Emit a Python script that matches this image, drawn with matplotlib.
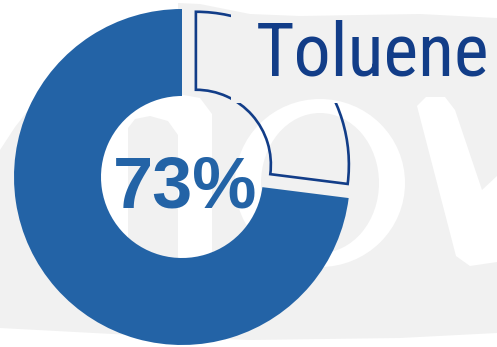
import matplotlib
matplotlib.use("Agg")
import matplotlib.pyplot as plt
from matplotlib.patches import Polygon, Ellipse
from matplotlib.path import Path

# ---- data ----
labels = ["Toluene", "Other"]
shares = [73, 27]

# ---- layout / style ----
W, H = 497, 347
BLUE = "#2363a6"
NAVY = "#123d88"
BG = "#f1f1f1"
WHITE = "#ffffff"

RING_CENTER = (182, H - 177)
R_OUT, R_IN = 168, 81
SLICE_R_OUT, SLICE_R_IN = 153, 75
SLICE_SHIFT = 18.5
TITLE_WIDTH = 234  # pixels available for the label text

fig = plt.figure(figsize=(W / 100, H / 100), dpi=100, facecolor=BG)
ax = fig.add_axes([0, 0, 1, 1])


def flip(pts):
    """Convert top-down pixel points to the axes' bottom-up coordinates."""
    return [(x, H - y) for x, y in pts]


# ---- faint background lettering ----
bg_shapes = [
    # top band
    [(178, 0), (497, 0), (497, 18), (420, 14), (300, 16), (250, 14), (200, 4), (178, 3)],
    # bottom band
    [(0, 347), (497, 347), (497, 333), (400, 338), (250, 340), (150, 336), (0, 328)],
    # left letter stroke and arch
    [(0, 0), (178, 0), (178, 94), (200, 98), (212, 114), (212, 335), (178, 335),
     (178, 135), (168, 121), (150, 116), (135, 119), (128, 128), (128, 300),
     (110, 290), (70, 200), (40, 95), (15, 127), (0, 150)],
    # "v" shape on the right
    [(417, 106), (426, 97), (445, 97), (455, 110), (482, 190), (497, 176),
     (497, 262), (470, 266), (456, 256)],
]
for shp in bg_shapes:
    ax.add_patch(Polygon(flip(shp), closed=True, facecolor=WHITE, edgecolor="none", zorder=0))
ax.add_patch(Ellipse((320, H - 183), 170, 168, facecolor=WHITE, edgecolor="none", zorder=0))
ax.add_patch(Ellipse((320, H - 183), 118, 140, facecolor=BG, edgecolor="none", zorder=0.5))

# ---- filled ring ----
ring, _ = ax.pie(shares, startangle=90, counterclock=True, radius=R_OUT,
                 center=RING_CENTER, colors=[BLUE, BLUE],
                 wedgeprops=dict(width=R_OUT - R_IN, linewidth=0))
ring[1].set_visible(False)
for w in ring:
    w.set_zorder(2)

# ---- exploded outlined slice ----
outline, _ = ax.pie(shares, startangle=90, counterclock=True, radius=SLICE_R_OUT,
                    center=RING_CENTER, explode=[0, SLICE_SHIFT],
                    wedgeprops=dict(width=SLICE_R_OUT - SLICE_R_IN, facecolor="none",
                                    edgecolor=NAVY, linewidth=1.9, joinstyle="miter"))
outline[0].set_visible(False)
gap = Path(flip([(0, 347), (497, 347), (497, 103), (231, 103), (231, 0), (0, 0), (0, 347)]))
outline[1].set_clip_on(True)
outline[1].set_clip_path(gap, ax.transData)
outline[1].set_zorder(3)

ax.set_xlim(0, W)
ax.set_ylim(0, H)
ax.set_aspect("equal")
ax.axis("off")

# ---- labels ----
title = ax.text(256, H - 75, labels[0], ha="left", va="baseline", color=NAVY,
                fontsize=55, zorder=4,
                family=["Roboto Condensed", "Open Sans Condensed",
                        "Liberation Sans Narrow", "Lato"])
ax.text(185, H - 207, f"{shares[0]}%", ha="center", va="baseline", color=BLUE,
        fontsize=52, fontweight="bold", family=["Liberation Sans", "DejaVu Sans"], zorder=4)

# shrink the label until it fits its slot
fig.canvas.draw()
tw = title.get_window_extent(fig.canvas.get_renderer()).width
if tw > TITLE_WIDTH:
    title.set_fontsize(55 * TITLE_WIDTH / tw)

fig.savefig("out.png", dpi=100, facecolor=BG)
